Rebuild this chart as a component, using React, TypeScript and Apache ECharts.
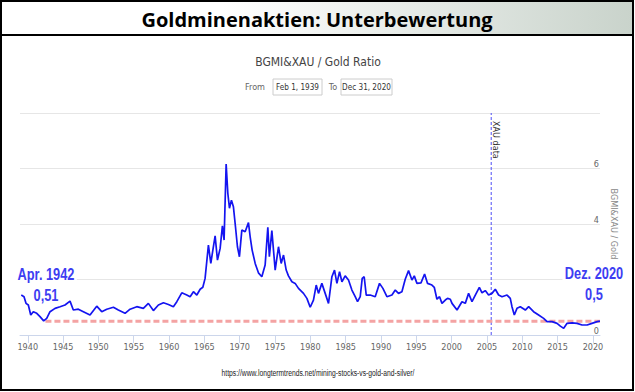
import React, { useEffect, useRef } from "react";
import * as echarts from "echarts";

const years = [
  1939.08, 1939.47, 1939.75, 1940.08, 1940.42, 1940.78, 1941.27, 1941.73, 1942.25, 1942.68,
  1943.15, 1943.86, 1944.57, 1945.27, 1945.98, 1946.45, 1947.16, 1947.87, 1948.81, 1949.76,
  1950.47, 1951.18, 1952.12, 1952.82, 1953.77, 1954.48, 1955.43, 1956.36, 1957.07, 1957.78,
  1958.49, 1959.2, 1959.91, 1960.61,
  1961.1, 1961.8, 1962.51, 1962.98, 1963.45, 1963.93, 1964.4, 1964.78, 1965.1, 1965.57,
  1965.91, 1966.2, 1966.52, 1966.85, 1967.23, 1967.55, 1967.79, 1968.08, 1968.32, 1968.55,
  1968.83, 1969.11, 1969.4, 1969.68, 1969.96, 1970.3, 1970.77, 1971.24, 1971.48, 1971.76,
  1972.19, 1972.65, 1973.13, 1973.6, 1973.98, 1974.2, 1974.55, 1975.02, 1975.49, 1975.87,
  1976.2, 1976.58, 1976.9, 1977.39, 1977.85, 1978.32,
  1979.03, 1979.51, 1979.98, 1980.44, 1980.83, 1981.15, 1981.63, 1982.1, 1982.57, 1983.05,
  1983.42, 1983.76, 1984.13, 1984.47, 1984.93, 1985.4, 1985.88, 1986.35, 1986.68, 1987.06,
  1987.34, 1987.62, 1987.91, 1988.47, 1989.18, 1989.79, 1990.27, 1990.84, 1991.55, 1992.02,
  1992.48, 1992.96, 1993.43, 1993.9, 1994.38, 1994.71, 1995.09, 1995.66, 1996.17, 1996.59,
  1997.21, 1997.54, 1997.92, 1998.29, 1998.63, 1999.1, 1999.42, 1999.81,
  2000.05, 2000.76, 2001.46, 2001.93, 2002.4, 2002.88, 2003.35, 2003.92, 2004.3, 2004.76,
  2005.23, 2005.71, 2006.18, 2006.65, 2007.13, 2007.84, 2008.3, 2008.54, 2008.87, 2009.25,
  2009.72, 2010.43, 2010.9, 2011.6, 2012.31, 2013.02, 2013.5, 2014.21, 2014.92, 2015.39,
  2015.86, 2016.34, 2017.05, 2017.75, 2018.46, 2019.17, 2019.86, 2020.6, 2020.99,
];

const ratio = [
  1.44, 1.38, 1.14, 1.08, 0.72, 0.84, 0.78, 0.66, 0.51, 0.6,
  0.84, 0.96, 1.02, 1.08, 1.22, 0.9, 0.93, 0.84, 0.72, 1.04,
  0.84, 0.93, 1.0, 0.9, 0.78, 0.93, 1.02, 0.96, 1.14, 0.88,
  1.08, 1.16, 1.1, 1.02,
  1.2, 1.52, 1.44, 1.38, 1.56, 1.44, 1.65, 1.72, 2.04, 3.24,
  2.58, 3.06, 3.57, 2.7, 3.12, 3.93, 3.42, 6.16, 5.1, 4.57,
  4.86, 4.62, 3.9, 3.18, 2.82, 3.78, 3.72, 4.05, 3.54, 3.06,
  2.58, 2.24, 2.1, 2.52, 3.88, 2.82, 3.76, 2.34, 3.18, 2.58,
  2.88, 2.34, 2.13, 1.92, 1.86, 1.68,
  1.5, 1.32, 1.0, 1.26, 1.8, 1.5, 1.86, 1.5, 1.14, 2.1,
  2.34, 1.86, 2.28, 1.92, 2.13, 1.98, 1.62, 1.38, 1.2, 1.38,
  2.04, 2.1, 1.44, 1.44, 1.38, 1.86, 1.68, 1.38, 1.44, 1.62,
  1.5, 1.56, 2.01, 2.32, 1.98, 2.13, 1.86, 1.88, 2.2, 1.86,
  1.8, 1.72, 1.29, 1.38, 1.14, 1.26, 1.32, 1.29,
  1.14, 0.9, 1.2, 1.14, 1.5, 1.2, 1.44, 1.72, 1.52, 1.6,
  1.44, 1.5, 1.65, 1.44, 1.38, 1.44, 1.32, 1.02, 0.72, 0.96,
  1.02, 0.9, 1.02, 0.84, 0.72, 0.6, 0.48, 0.48, 0.42, 0.32,
  0.24, 0.42, 0.44, 0.42, 0.36, 0.36, 0.42, 0.48, 0.5,
];

const xTickLabels = [1940, 1945, 1950, 1955, 1960, 1965, 1970, 1975, 1980, 1985, 1990, 1995, 2000, 2005, 2010, 2015, 2020];
const yHiddenLabels = [2, 8];
const xauStartYear = 2005.6;
const referenceLevel = 0.5;
const referenceStartYear = 1942.5;
const startLabel = ["Apr. 1942", "0,51"];
const endLabel = ["Dez. 2020", "0,5"];

const narrow = "'Liberation Sans Narrow', 'DejaVu Sans Condensed', 'Roboto Condensed', 'Liberation Sans', sans-serif";
const annoFont = "bold 16px 'Liberation Sans', Arial, sans-serif";
const annoColor = "#3d3df2";

export default function App() {
  const ref = useRef<HTMLDivElement>(null);
  useEffect(() => {
    document.body.style.margin = "0";
    const chart = echarts.init(ref.current!, null, { renderer: "svg" });
    const data = years.map((y, i) => [y, ratio[i]]);
    chart.setOption({
      animation: false,
      backgroundColor: "#ffffff",
      grid: { left: 20, right: 35, top: 113, bottom: 57 },
      xAxis: {
        type: "value",
        min: 1938.9,
        max: 2021.0,
        axisLine: { show: true, lineStyle: { color: "#ccd6eb" } },
        axisTick: { show: true, length: 8, lineStyle: { color: "#ccd6eb" }, customValues: xTickLabels },
        axisLabel: { color: "#666", fontSize: 9, fontFamily: narrow, margin: 7, customValues: xTickLabels, formatter: (v: number) => String(Math.round(v)) },
        splitLine: { show: false },
      },
      yAxis: {
        type: "value",
        position: "right",
        min: 0,
        max: 8,
        interval: 2,
        name: "BGMI&XAU / Gold",
        nameLocation: "middle",
        nameRotate: -90,
        nameGap: 6,
        nameTextStyle: { color: "#888", fontSize: 9, fontFamily: narrow },
        axisLine: { show: false },
        axisTick: { show: false },
        axisLabel: {
          inside: true,
          margin: 1,
          color: "#666",
          fontSize: 9,
          fontFamily: narrow,
          verticalAlign: "bottom",
          formatter: (v: number) => (yHiddenLabels.includes(v) ? "" : String(v)),
        },
        splitLine: { lineStyle: { color: "#e6e6e6" } },
      },
      series: [
        {
          type: "line",
          data: [[xauStartYear, 0], [xauStartYear, 8]],
          showSymbol: false,
          silent: true,
          lineStyle: { color: "#4f4ff7", width: 1, type: [3, 2] },
          z: 2,
        },
        {
          type: "line",
          data: [[referenceStartYear, referenceLevel], [2021.0, referenceLevel]],
          showSymbol: false,
          silent: true,
          lineStyle: { color: "#f4a3a3", width: 3, type: [6, 3] },
          z: 2,
        },
        {
          type: "line",
          data,
          showSymbol: false,
          lineStyle: { color: "#1414f0", width: 1.7 },
          z: 3,
        },
      ],
      graphic: [
        {
          type: "rect",
          shape: { x: 1, y: 1, width: 632, height: 34 },
          style: {
            fill: new echarts.graphic.LinearGradient(0, 0, 1, 0, [
              { offset: 0, color: "#ffffff" },
              { offset: 0.35, color: "#ffffff" },
              { offset: 1, color: "#c9d3cb" },
            ]),
            stroke: "#000",
            lineWidth: 2,
          },
          z: 10,
        },
        {
          type: "rect",
          shape: { x: 1, y: 1, width: 632, height: 389 },
          style: { fill: "none", stroke: "#000", lineWidth: 2 },
          z: 10,
        },
        {
          type: "text",
          x: 317,
          y: 19,
          style: { text: "Goldminenaktien: Unterbewertung", fill: "#000", font: "bold 20px 'Open Sans', sans-serif", align: "center", verticalAlign: "middle" },
          z: 11,
        },
        {
          type: "text",
          x: 318,
          y: 62,
          style: { text: "BGMI&XAU / Gold Ratio", fill: "#444", font: `12px ${narrow}`, align: "center", verticalAlign: "middle" },
        },
        { type: "text", x: 265, y: 87, style: { text: "From", fill: "#666", font: `9px ${narrow}`, align: "right", verticalAlign: "middle" } },
        { type: "rect", shape: { x: 273, y: 79, width: 49, height: 16 }, style: { fill: "#fff", stroke: "#cccccc", lineWidth: 1 } },
        { type: "text", x: 297.5, y: 87, scaleX: 0.9, style: { text: "Feb 1, 1939", fill: "#333", font: `9px ${narrow}`, align: "center", verticalAlign: "middle" } },
        { type: "text", x: 333, y: 87, style: { text: "To", fill: "#666", font: `9px ${narrow}`, align: "center", verticalAlign: "middle" } },
        { type: "rect", shape: { x: 341, y: 79, width: 51, height: 16 }, style: { fill: "#fff", stroke: "#cccccc", lineWidth: 1 } },
        { type: "text", x: 366.5, y: 87, scaleX: 0.9, style: { text: "Dec 31, 2020", fill: "#333", font: `9px ${narrow}`, align: "center", verticalAlign: "middle" } },
        {
          type: "text",
          x: 496,
          y: 121,
          rotation: -Math.PI / 2,
          style: { text: "XAU data", fill: "#333", font: `9px ${narrow}`, align: "left", verticalAlign: "middle" },
          z: 5,
        },
        {
          type: "text",
          x: 46,
          y: 274,
          scaleX: 0.8,
          style: { text: startLabel[0], fill: annoColor, font: annoFont, align: "center", verticalAlign: "middle", backgroundColor: "#fff", padding: [1, 3] },
          z: 6,
        },
        {
          type: "text",
          x: 46,
          y: 295,
          scaleX: 0.8,
          style: { text: startLabel[1], fill: annoColor, font: annoFont, align: "center", verticalAlign: "middle" },
          z: 6,
        },
        {
          type: "text",
          x: 594,
          y: 273,
          scaleX: 0.8,
          style: { text: endLabel[0], fill: annoColor, font: annoFont, align: "center", verticalAlign: "middle", backgroundColor: "#fff", padding: [1, 3] },
          z: 6,
        },
        {
          type: "text",
          x: 594,
          y: 294,
          scaleX: 0.8,
          style: { text: endLabel[1], fill: annoColor, font: annoFont, align: "center", verticalAlign: "middle" },
          z: 6,
        },
        {
          type: "text",
          x: 318,
          y: 373,
          scaleX: 0.75,
          style: { text: "https://www.longtermtrends.net/mining-stocks-vs-gold-and-silver/", fill: "#222", font: "9px 'Liberation Sans', sans-serif", align: "center", verticalAlign: "middle" },
        },
      ],
    });
    return () => chart.dispose();
  }, []);
  return <div ref={ref} style={{ width: 635, height: 392 }} />;
}
